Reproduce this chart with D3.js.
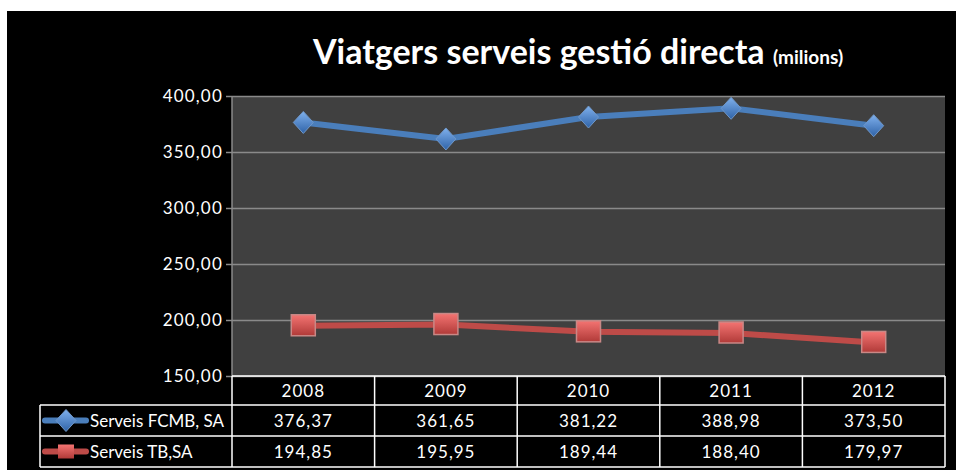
<!DOCTYPE html>
<html>
<head>
<meta charset="utf-8">
<script src="https://cdn.jsdelivr.net/npm/d3@7"></script>
<style>
  body { margin: 0; background: #fff; }
  text { font-family: Lato, "Open Sans", sans-serif; }
</style>
</head>
<body>
<script>
// chart data
var years = ["2008", "2009", "2010", "2011", "2012"];
var fcmb = [376.37, 361.65, 381.22, 388.98, 373.50];
var tb = [194.85, 195.95, 189.44, 188.40, 179.97];
var seriesNames = ["Serveis FCMB, SA", "Serveis TB,SA"];
var seriesColors = ["#4a7ebb", "#be4b48"];
var yTicks = [150, 200, 250, 300, 350, 400];

var w = 956, h = 471;
var plot = {left: 232, right: 945, top: 96, bottom: 376};
var rowH = [376, 405, 436, 467];
var legendLeft = 40;

var fmt = function(v) { return d3.format(".2f")(v).replace(".", ","); };

var svg = d3.select("body").append("svg")
    .attr("width", w)
    .attr("height", h);

var defs = svg.append("defs");
var gb = defs.append("linearGradient").attr("id", "gBlue").attr("x1", 0).attr("y1", 0).attr("x2", 0).attr("y2", 1);
gb.append("stop").attr("offset", "0%").attr("stop-color", "#7fb0ec");
gb.append("stop").attr("offset", "100%").attr("stop-color", "#2f63a8");
var gr = defs.append("linearGradient").attr("id", "gRed").attr("x1", 0).attr("y1", 0).attr("x2", 0).attr("y2", 1);
gr.append("stop").attr("offset", "0%").attr("stop-color", "#f47472");
gr.append("stop").attr("offset", "100%").attr("stop-color", "#b03a38");

// background
svg.append("rect")
    .attr("x", 7).attr("y", 11)
    .attr("width", w - 7).attr("height", 459)
    .attr("fill", "#000");

// title
var title = svg.append("text")
    .attr("x", 578).attr("y", 64)
    .attr("text-anchor", "middle")
    .attr("fill", "#fff")
    .attr("font-weight", "bold");
title.append("tspan").attr("font-size", 34).text("Viatgers serveis gestió directa ");
title.append("tspan").attr("font-size", 19).text("(milions)");

// scales
var x = d3.scaleBand().domain(years).range([plot.left, plot.right]);
var y = d3.scaleLinear().domain([150, 400]).range([plot.bottom, plot.top]);

svg.append("rect")
    .attr("x", plot.left).attr("y", plot.top)
    .attr("width", plot.right - plot.left).attr("height", plot.bottom - plot.top)
    .attr("fill", "#404040");

// gridlines + axis
var yAxis = d3.axisLeft(y)
    .tickValues(yTicks)
    .tickSize(-(plot.right - plot.left))
    .tickFormat(fmt);

var ga = svg.append("g")
    .attr("transform", "translate(" + plot.left + ",0)")
    .call(yAxis);
ga.select(".domain").remove();
ga.selectAll(".tick line")
    .attr("x1", -6)
    .attr("stroke", "#8a8a8a")
    .attr("stroke-width", 1.5);
ga.selectAll(".tick text")
    .attr("x", -9)
    .attr("fill", "#fff")
    .attr("font-size", 17)
    .attr("letter-spacing", 1.2);

svg.append("line")
    .attr("x1", plot.left).attr("x2", plot.left)
    .attr("y1", plot.top).attr("y2", plot.bottom)
    .attr("stroke", "#8a8a8a").attr("stroke-width", 1.5);

// lines
var line = d3.line()
    .x(function(d, i) { return x(years[i]) + x.bandwidth() / 2; })
    .y(function(d) { return y(d); });

var allSeries = [fcmb, tb];
allSeries.forEach(function(s, k) {
    svg.append("path")
        .datum(s)
        .attr("d", line)
        .attr("fill", "none")
        .attr("stroke", seriesColors[k])
        .attr("stroke-width", 6);
});

function marker(g, k, cx, cy) {
    if (k === 0) {
        g.append("path")
            .attr("d", "M" + cx + "," + (cy - 11) + "L" + (cx + 10) + "," + cy + "L" + cx + "," + (cy + 11) + "L" + (cx - 10) + "," + cy + "Z")
            .attr("fill", "url(#gBlue)")
            .attr("stroke", "#6f97c8").attr("stroke-width", 1);
    } else {
        g.append("rect")
            .attr("x", cx - 12).attr("y", cy - 11)
            .attr("width", 24).attr("height", 21)
            .attr("fill", "url(#gRed)")
            .attr("stroke", "#c98886").attr("stroke-width", 1.5);
    }
}

allSeries.forEach(function(s, k) {
    var gm = svg.append("g");
    s.forEach(function(v, i) {
        marker(gm, k, x(years[i]) + x.bandwidth() / 2, y(v));
    });
});

// data table
var tbl = svg.append("g").attr("fill", "none").attr("stroke", "#fff").attr("stroke-width", 1.5);
tbl.append("line").attr("x1", plot.left).attr("x2", plot.right).attr("y1", rowH[0]).attr("y2", rowH[0]);
[1, 2, 3].forEach(function(r) {
    tbl.append("line").attr("x1", legendLeft).attr("x2", plot.right).attr("y1", rowH[r]).attr("y2", rowH[r]);
});
tbl.append("line").attr("x1", legendLeft).attr("x2", legendLeft).attr("y1", rowH[1]).attr("y2", rowH[3]);
years.forEach(function(yr) {
    tbl.append("line").attr("x1", x(yr)).attr("x2", x(yr)).attr("y1", rowH[0]).attr("y2", rowH[3]);
});
tbl.append("line").attr("x1", plot.right).attr("x2", plot.right).attr("y1", rowH[0]).attr("y2", rowH[3]);

svg.append("g").selectAll("text")
    .data(years)
    .enter().append("text")
    .attr("x", function(d) { return x(d) + x.bandwidth() / 2; })
    .attr("y", (rowH[0] + rowH[1]) / 2 + 6)
    .attr("text-anchor", "middle")
    .attr("fill", "#fff")
    .attr("font-size", 17)
    .attr("letter-spacing", 1)
    .text(function(d) { return d; });

allSeries.forEach(function(s, k) {
    var cy = (rowH[k + 1] + rowH[k + 2]) / 2;
    svg.append("g").selectAll("text")
        .data(s)
        .enter().append("text")
        .attr("x", function(d, i) { return x(years[i]) + x.bandwidth() / 2; })
        .attr("y", cy + 6)
        .attr("text-anchor", "middle")
        .attr("fill", "#fff")
        .attr("font-size", 17)
        .attr("letter-spacing", 1)
        .text(fmt);

    // legend key
    svg.append("line")
        .attr("x1", 45).attr("x2", 86)
        .attr("y1", cy).attr("y2", cy)
        .attr("stroke", seriesColors[k]).attr("stroke-width", 6)
        .attr("stroke-linecap", "round");
    var km = svg.append("g");
    if (k === 0) marker(km, 0, 66, cy);
    else {
        km.append("rect").attr("x", 58).attr("y", cy - 7).attr("width", 16).attr("height", 14)
            .attr("fill", "url(#gRed)");
    }
    svg.append("text")
        .attr("x", 90).attr("y", cy + 6)
        .attr("fill", "#fff")
        .attr("font-size", 17)
        .text(seriesNames[k]);
});
</script>
</body>
</html>
